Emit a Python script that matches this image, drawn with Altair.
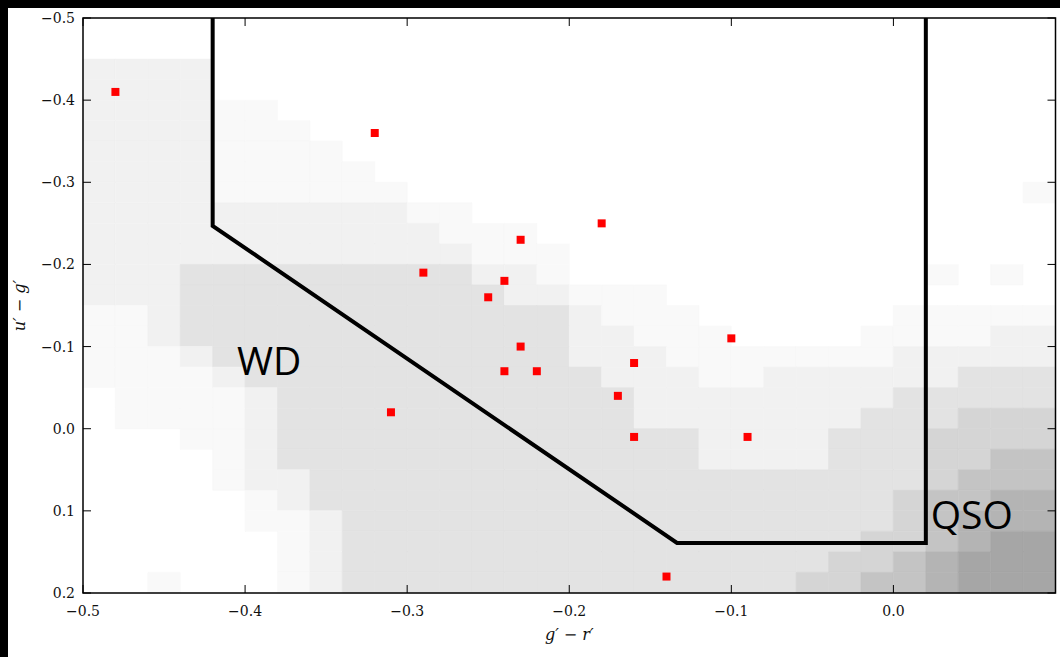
import altair as alt
import pandas as pd

# ---------------- data ----------------
# candidate objects (red squares)
obj_x = [-0.48, -0.32, -0.18, -0.23, -0.29, -0.24, -0.25, -0.23, -0.10,
         -0.16, -0.24, -0.22, -0.17, -0.31, -0.16, -0.09, -0.14]
obj_y = [-0.41, -0.36, -0.25, -0.23, -0.19, -0.18, -0.16, -0.10, -0.11,
         -0.08, -0.07, -0.07, -0.04, -0.02, 0.01, 0.01, 0.18]

# selection box (black polygon)
box_x = [-0.42, -0.42, -0.1335, 0.02, 0.02]
box_y = [-0.50, -0.247, 0.139, 0.139, -0.50]

# region labels
label_text = ["WD", "QSO"]
label_x = [-0.405, 0.023]
label_y = [-0.066, 0.122]

# axis range and tick values
x_range = [-0.5, 0.1]
y_range = [-0.5, 0.2]
x_ticks = [-0.5, -0.4, -0.3, -0.2, -0.1, 0.0]
y_ticks = [-0.5, -0.4, -0.3, -0.2, -0.1, 0.0, 0.1, 0.2]
x_title = "g′ − r′"
y_title = "u′ − g′"

# background source density (grey level 0-9), columns of 0.02 in g'-r'
# starting at -0.5, rows of 0.025 in u'-g' starting at -0.5
density_rows = [
    "000000000000000000000000000000",
    "000000000000000000000000000000",
    "222200000000000000000000000000",
    "222200000000000000000000000000",
    "222211000000000000000000000000",
    "222211100000000000000000000000",
    "222211110000000000000000000000",
    "222211111000000000000000000000",
    "222211111100000000000000000001",
    "222222222211000000000000000000",
    "222222222221110000000000000000",
    "222222222222111000000000000000",
    "222333333333221000000000001010",
    "222333333333322111000000000000",
    "112333333333333211100000011111",
    "112333333333333221110000111122",
    "111233333333333222111111122222",
    "111123333333333322211222222333",
    "011112333333333332222222233333",
    "011112333333333332222222333444",
    "000112333333333333322223334444",
    "000012333333333333322223334455",
    "000012233333333333333333334555",
    "000001233333333333333333345566",
    "000001123333333333333333345666",
    "000000123333333333333333445677",
    "000000123333333333333334456777",
    "001000123333333333333344556777",
]
col_step = 0.02
row_step = 0.025

# ---------------- layout (pixels) ----------------
CW, CH = 1060, 657
PL, PT, PR, PB = 83.0, 18.0, 1055.5, 593.0
kx = (PR - PL) / (x_range[1] - x_range[0])
ky = (PB - PT) / (y_range[1] - y_range[0])
x_dom = [x_range[0] - PL / kx, x_range[1] + (CW - PR) / kx]
y_dom = [y_range[0] - PT / ky, y_range[1] + (CH - PB) / ky]

# ---------------- tables ----------------
cells = []
for r, s in enumerate(density_rows):
    s = (s + "0" * 30)[:30]
    for c, ch in enumerate(s):
        lv = int(ch)
        if lv > 0:
            x0 = -0.5 + col_step * c
            y0 = -0.5 + row_step * r
            cells.append({"x0": x0, "x1": x0 + col_step,
                          "y0": y0, "y1": y0 + row_step, "level": lv})
cells_df = pd.DataFrame(cells)
obj_df = pd.DataFrame({"x": obj_x, "y": obj_y})
box_df = pd.DataFrame({"x": box_x, "y": box_y, "o": list(range(len(box_x)))})
lab_df = pd.DataFrame({"x": label_x, "y": label_y, "t": label_text})
xt_df = pd.DataFrame({"x": x_ticks})
yt_df = pd.DataFrame({"y": y_ticks})
frame_df = pd.DataFrame({"x0": [x_range[0]], "x1": [x_range[1]],
                         "y0": [y_range[0]], "y1": [y_range[1]]})
one = pd.DataFrame({"a": [0]})

xs = alt.Scale(domain=x_dom, nice=False, zero=False)
ys = alt.Scale(domain=y_dom, nice=False, zero=False, reverse=True)


def X(f):
    return alt.X(f, type="quantitative", scale=xs, axis=None)


def Y(f):
    return alt.Y(f, type="quantitative", scale=ys, axis=None)


levels = [1, 2, 3, 4, 5, 6, 7, 8, 9]
greys = ["#f9f9f9", "#f1f1f1", "#e3e3e3", "#d5d5d5", "#c4c4c4",
         "#b4b4b4", "#a6a6a6", "#989898", "#8a8a8a"]
gscale = alt.Scale(domain=levels, range=greys)

# white page inside the black border (the chart background is black)
page = alt.Chart(one).mark_rect(color="white").encode(
    x=alt.value(8), x2=alt.value(CW + 2), y=alt.value(8), y2=alt.value(CH + 2))

bg = alt.Chart(cells_df).mark_rect(strokeWidth=0.6).encode(
    x=X("x0"), x2="x1", y=Y("y0"), y2="y1",
    color=alt.Color("level:O", scale=gscale, legend=None),
    stroke=alt.Stroke("level:O", scale=gscale, legend=None),
)

frame = alt.Chart(frame_df).mark_rect(fillOpacity=0, stroke="black",
                                      strokeWidth=1.5).encode(
    x=X("x0"), x2="x1", y=Y("y0"), y2="y1")

box = alt.Chart(box_df).mark_line(color="black", strokeWidth=4,
                                  strokeCap="butt", strokeJoin="miter").encode(
    x=X("x"), y=Y("y"), order="o:Q")

pts = alt.Chart(obj_df).mark_square(color="#ff0000", size=64, opacity=1).encode(
    x=X("x"), y=Y("y"))

labels = alt.Chart(lab_df).mark_text(align="left", baseline="alphabetic",
                                     font="Open Sans", fontSize=39,
                                     color="black").encode(
    x=X("x"), y=Y("y"), text="t:N")

serif = "DejaVu Serif"
tick_bottom = alt.Chart(xt_df).mark_rule(color="black", strokeWidth=1).encode(
    x=X("x"), y=alt.value(PB - 8), y2=alt.value(PB))
tick_top = alt.Chart(xt_df).mark_rule(color="black", strokeWidth=1).encode(
    x=X("x"), y=alt.value(PT), y2=alt.value(PT + 8))
tick_left = alt.Chart(yt_df).mark_rule(color="black", strokeWidth=1).encode(
    y=Y("y"), x=alt.value(PL), x2=alt.value(PL + 8))
tick_right = alt.Chart(yt_df).mark_rule(color="black", strokeWidth=1).encode(
    y=Y("y"), x=alt.value(PR - 8), x2=alt.value(PR))

xlab = alt.Chart(xt_df).mark_text(font=serif, fontSize=14, color="#111111",
                                  align="center", baseline="alphabetic").encode(
    x=X("x"), y=alt.value(PB + 23), text=alt.Text("x:Q", format=".1f"))
ylab = alt.Chart(yt_df).mark_text(font=serif, fontSize=14, color="#111111",
                                  align="right", baseline="alphabetic", dy=5).encode(
    y=Y("y"), x=alt.value(PL - 8), text=alt.Text("y:Q", format=".1f"))

xtit = alt.Chart(one).mark_text(font=serif, fontSize=16, fontStyle="italic",
                                color="#111111", align="center",
                                baseline="alphabetic").encode(
    x=alt.value((PL + PR) / 2), y=alt.value(640), text=alt.value(x_title))
ytit = alt.Chart(one).mark_text(font=serif, fontSize=16, fontStyle="italic",
                                color="#111111", align="center",
                                baseline="middle", angle=270).encode(
    x=alt.value(20), y=alt.value((PT + PB) / 2), text=alt.value(y_title))

chart = alt.layer(
    page, bg, frame, box, pts, labels, tick_bottom, tick_top, tick_left,
    tick_right, xlab, ylab, xtit, ytit
).properties(
    width=CW, height=CH,
    autosize=alt.AutoSizeParams(type="none"),
    padding=0,
    background="black",
).configure_view(strokeWidth=0)

chart.save("out.html", embed_options={"renderer": "svg", "actions": False})
